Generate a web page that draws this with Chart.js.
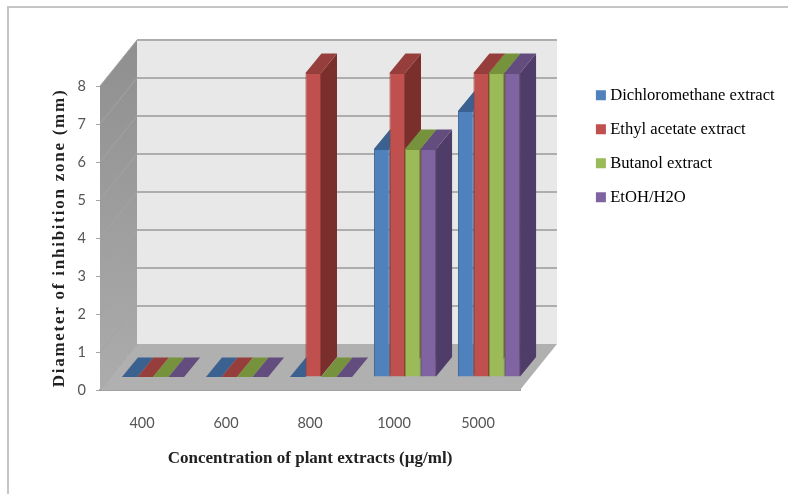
<!DOCTYPE html>
<html>
<head>
<meta charset="utf-8">
<style>
html, body { margin: 0; padding: 0; background: #fff; overflow: hidden; }
#myChart { display: block; filter: blur(0.55px); }
</style>
<script src="https://cdn.jsdelivr.net/npm/chart.js@4/dist/chart.umd.js"></script>
</head>
<body>
<canvas id="myChart" width="788" height="494"></canvas>
<script>
let categories = ['400', '600', '800', '1000', '5000'];
let seriesNames = ['Dichloromethane extract', 'Ethyl acetate extract', 'Butanol extract', 'EtOH/H2O'];

let dichloromethane = [0, 0, 0, 6, 7];
let ethylAcetate = [0, 0, 8, 8, 8];
let butanol = [0, 0, 0, 6, 8];
let etohWater = [0, 0, 0, 6, 8];
let seriesValues = [dichloromethane, ethylAcetate, butanol, etohWater];

let frontColors = ['#4f81bd', '#c0504d', '#9bbb59', '#8064a2'];
let topColors = ['#3a6190', '#953e3b', '#76923c', '#634d7f'];
let sideColors = ['#2f4f77', '#7a2f2d', '#5f7630', '#503c68'];

/* how far the back wall sits behind the front of the floor */
const WALL_DX = 37, WALL_DY = 46;
/* bars stand a little behind the front edge and have their own depth */
const BAR_DX = 11, BAR_DY = 13;
const DEPTH_X = 16, DEPTH_Y = 19.5;

const poly = (ctx, pts, fill) => {
    ctx.beginPath();
    pts.forEach((p, i) => i ? ctx.lineTo(p[0], p[1]) : ctx.moveTo(p[0], p[1]));
    ctx.closePath();
    ctx.fillStyle = fill;
    ctx.fill();
}

/* Frame, walls and floor of the fake 3D box */
const boxPlugin = {
    id: 'box3d',
    afterLayout(chart) {
        /* legend goes beside the box, not inside it */
        let legend = chart.legend;
        legend.left = 582.5;
        legend.right = 788;
        legend.top = 69.5;
        legend.bottom = 494;

        /* the y title is spaced out in the original */
        let y = chart.scales.y;
        if (!y.spacedTitle) {
            let drawTitle = y.drawTitle;
            y.drawTitle = function () {
                chart.ctx.letterSpacing = '1.75px';
                drawTitle.call(this);
                chart.ctx.letterSpacing = '0px';
            };
            y.spacedTitle = true;
        }
    },
    beforeDraw(chart) {
        let ctx = chart.ctx;
        ctx.save();
        ctx.strokeStyle = '#c6c6c6';
        ctx.lineWidth = 2;
        ctx.beginPath();
        ctx.moveTo(8, 494);
        ctx.lineTo(8, 7);
        ctx.lineTo(788, 7);
        ctx.stroke();
        ctx.restore();
    },
    beforeDatasetsDraw(chart) {
        let ctx = chart.ctx;
        let { left, right, top, bottom } = chart.chartArea;
        let y = chart.scales.y;
        ctx.save();
        poly(ctx, [[left + WALL_DX, top - WALL_DY], [right + WALL_DX, top - WALL_DY],
            [right + WALL_DX, bottom - WALL_DY], [left + WALL_DX, bottom - WALL_DY]], '#e8e8e8');

        let grad = ctx.createLinearGradient(0, top - WALL_DY, 0, bottom);
        grad.addColorStop(0, '#8f8f8f');
        grad.addColorStop(1, '#acacac');
        poly(ctx, [[left, top], [left + WALL_DX, top - WALL_DY],
            [left + WALL_DX, bottom - WALL_DY], [left, bottom]], grad);
        poly(ctx, [[left, bottom], [left + WALL_DX, bottom - WALL_DY],
            [right + WALL_DX, bottom - WALL_DY], [right, bottom]], '#b0b0b0');

        y.ticks.forEach(t => {
            let py = y.getPixelForValue(t.value);
            ctx.strokeStyle = '#a4a4a4';
            ctx.lineWidth = 1;
            ctx.beginPath();
            ctx.moveTo(left, py);
            ctx.lineTo(left + WALL_DX, py - WALL_DY);
            ctx.stroke();
            if (t.value > 0) {
                ctx.strokeStyle = '#adadad';
                ctx.lineWidth = 2;
                ctx.beginPath();
                ctx.moveTo(left + WALL_DX, py - WALL_DY);
                ctx.lineTo(right + WALL_DX, py - WALL_DY);
                ctx.stroke();
            }
        });

        /* top and side faces left to right, Chart.js paints the fronts over them afterwards */
        ctx.translate(BAR_DX, -BAR_DY);
        seriesNames.forEach((name, i) => {
            chart.getDatasetMeta(i).data.forEach(bar => {
                let x0 = bar.x - bar.width / 2, x1 = bar.x + bar.width / 2;
                if (bar.base > bar.y) {
                    poly(ctx, [[x1, bar.y], [x1 + DEPTH_X, bar.y - DEPTH_Y],
                        [x1 + DEPTH_X, bar.base - DEPTH_Y], [x1, bar.base]], sideColors[i]);
                }
                poly(ctx, [[x0, bar.y], [x1, bar.y], [x1 + DEPTH_X, bar.y - DEPTH_Y], [x0 + DEPTH_X, bar.y - DEPTH_Y]], topColors[i]);
            });
        });
        ctx.restore();
    },
    beforeDatasetDraw(chart) {
        chart.ctx.save();
        chart.ctx.translate(BAR_DX, -BAR_DY);
    },
    afterDatasetDraw(chart) {
        chart.ctx.restore();
    }
};

let config = {
    type: 'bar',
    data: {
        labels: categories,
        datasets: seriesNames.map((name, i) => ({
            label: name,
            data: seriesValues[i],
            backgroundColor: frontColors[i],
            borderColor: topColors[i],
            borderWidth: 1,
            categoryPercentage: 0.74,
            barPercentage: 1,
            clip: false
        }))
    },
    options: {
        responsive: false,
        animation: false,
        events: [],
        layout: { padding: { left: 0, top: 86, right: 268, bottom: 0 } },
        plugins: {
            tooltip: { enabled: false },
            legend: {
                position: 'chartArea',
                align: 'start',
                labels: {
                    boxWidth: 2,
                    boxHeight: 2,
                    padding: 17.4,
                    color: '#333',
                    font: { family: 'Liberation Serif', size: 16.6 },
                    generateLabels: () => seriesNames.map((name, i) => ({
                        text: name,
                        fillStyle: frontColors[i],
                        strokeStyle: frontColors[i],
                        lineWidth: 8,
                        datasetIndex: i
                    }))
                }
            }
        },
        scales: {
            x: {
                afterFit: s => { s.height = 104; },
                grid: { display: false },
                border: { color: '#a0a0a0', width: 2 },
                ticks: { padding: 17, color: '#555', font: { family: 'Lato', size: 14.5 }, maxRotation: 0 },
                title: {
                    display: true,
                    text: 'Concentration of plant extracts (µg/ml)',
                    color: '#222',
                    font: { family: 'Liberation Serif', size: 17, weight: 'bold' },
                    padding: { top: 0, bottom: 25 }
                }
            },
            y: {
                afterFit: s => { s.width = 100; },
                min: 0,
                max: 8,
                grid: { drawOnChartArea: false, tickLength: 4, color: '#a6a6a6' },
                border: { display: false },
                ticks: { stepSize: 1, padding: 10, color: '#555', font: { family: 'Lato', size: 14.5 } },
                title: {
                    display: true,
                    text: 'Diameter of inhibition zone (mm)',
                    color: '#222',
                    font: { family: 'Liberation Serif', size: 17, weight: 'bold' },
                    padding: { top: 49, bottom: 0 }
                }
            }
        }
    },
    plugins: [boxPlugin]
};

var myChart = new Chart(document.getElementById('myChart').getContext('2d'), config);
</script>
</body>
</html>
